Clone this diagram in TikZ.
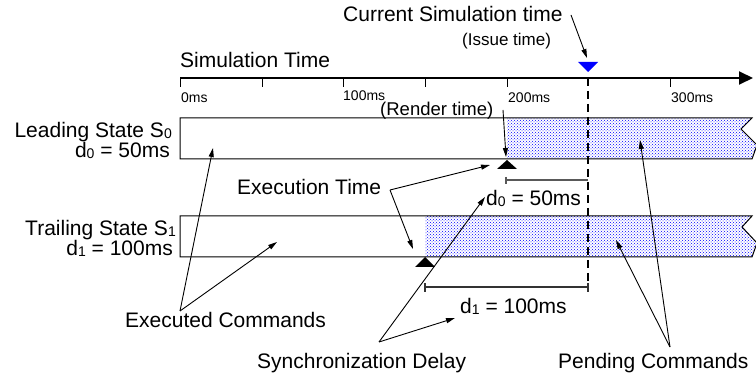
\documentclass[tikz,border=0pt]{standalone}
\usepackage{fontspec}
\setmainfont{Liberation Sans}
\usetikzlibrary{arrows.meta,patterns}
\newcommand{\mysub}[1]{\raisebox{-1pt}{\fontsize{14}{14}\selectfont #1}}
\tikzset{
  lbl/.style={inner sep=0pt, font=\fontsize{21}{21}\selectfont},
  tick lbl/.style={inner sep=0pt, anchor=base west, font=\fontsize{14}{14}\selectfont},
  ptr/.style={-{Triangle[length=9pt,width=5pt]}, line width=0.9pt},
  barline/.style={draw, line width=1pt},
  pend/.style={pattern=crosshatch dots, pattern color=blue},
  marker/.style={fill=black},
  axisline/.style={line width=2pt, -{Triangle[length=14pt,width=13pt]}},
  ticks/.style={line width=1pt},
  bracket/.style={line width=1.3pt},
}
\begin{document}
\begin{tikzpicture}[x=1pt,y=-1pt]
\useasboundingbox (0,0) rectangle (756,377);

% ---- time axis ----
\coordinate (ax0) at (180,78);
\coordinate (ax1) at (753,78);
\draw[axisline] (ax0) -- (ax1);
\foreach \x in {180,262,343,425,507,670} \draw[ticks] (\x,78) -- (\x,87);
\node[tick lbl] (t0) at (181,103) {0ms};
\node[tick lbl] (t100) at (343,101) {100ms};
\node[tick lbl] (t200) at (508,103) {200ms};
\node[tick lbl] (t300) at (671,103) {300ms};
\node[lbl, anchor=base west] (simtime) at (180,68) {Simulation Time};

% ---- bars ----
\fill[pend] (507,118) -- (752,118) -- (741,129) -- (757,145) -- (752,159) -- (507,159) -- cycle;
\fill[pend] (425,216) -- (752,216) -- (742,227) -- (757,243) -- (752,257) -- (425,257) -- cycle;
\draw[barline] (180,118) -- (752,118) -- (741,129) -- (757,145) -- (752,159) -- (180,159) -- cycle;
\draw[barline] (180,216) -- (752,216) -- (742,227) -- (757,243) -- (752,257) -- (180,257) -- cycle;

% ---- current time marker ----
\coordinate (now) at (588,78);
\coordinate (nowend) at (588,284);
\draw[line width=1.2pt, dash pattern=on 8pt off 5pt] (now) -- (nowend);
\fill[blue] (578,62) -- (598,62) -- (588,72) -- cycle;
\coordinate (curtip) at (587,58);

% ---- execution markers ----
\fill[marker] (507,160) -- (517,169) -- (497,169) -- cycle;
\fill[marker] (425,257) -- (435,267) -- (415,267) -- cycle;

% ---- delay brackets ----
\draw[bracket, black!65] (506,177) -- (506,184);
\draw[bracket, black!65] (506,180) -- (588,180);
\draw[bracket, black!80] (425,283) -- (425,292);
\draw[bracket, black!80] (425,287) -- (588,287);
\draw[bracket, black!80] (588,283) -- (588,292);

% ---- state labels ----
\node[lbl, anchor=base east] (lead) at (172,138) {Leading State S\mysub{0}};
\node[lbl, anchor=base east] (leadd) at (170,158) {d\mysub{0} = 50ms};
\node[lbl, anchor=base east] (trail) at (176,236) {Trailing State S\mysub{1}};
\node[lbl, anchor=base east] (traild) at (173,256) {d\mysub{1} = 100ms};

% ---- texts ----
\node[lbl, anchor=base west] (cur) at (343,22) {Current Simulation time};
\node[inner sep=0pt, anchor=base west, font=\fontsize{17}{17}\selectfont] (issue) at (462,46) {(Issue time)};
\node[inner sep=0pt, anchor=base west, font=\fontsize{18.5}{18.5}\selectfont] (render) at (380,116) {(Render time)};
\node[lbl, anchor=base west] (exec) at (237,195) {Execution Time};
\node[lbl, anchor=base west] (dzero) at (486,206) {d\mysub{0} = 50ms};
\node[lbl, anchor=base west] (done) at (460,313) {d\mysub{1} = 100ms};
\node[lbl, anchor=base west] (executed) at (125,327) {Executed Commands};
\node[lbl, anchor=base west] (sync) at (257,368) {Synchronization Delay};
\node[lbl, anchor=base west] (pending) at (558,368) {Pending Commands};

% ---- pointer coordinates ----
\coordinate (curfrom) at (571,15);
\coordinate (renfrom) at (503,110);
\coordinate (rentip) at (506,157);
\coordinate (exA) at (390,190);
\coordinate (exT1) at (490,165);
\coordinate (exT2) at (413,249);
\coordinate (ecA) at (180,311);
\coordinate (ecT1) at (213,148);
\coordinate (ecT2) at (277,242);
\coordinate (syA) at (379,342);
\coordinate (syT1) at (485,197);
\coordinate (syT2) at (455,318);
\coordinate (pcA) at (670,347);
\coordinate (pcT1) at (640,140);
\coordinate (pcT2) at (616,240);

% ---- pointers ----
\draw[ptr] (curfrom) -- (curtip);
\draw[ptr] (renfrom) -- (rentip);
\draw[ptr] (exA) -- (exT1);
\draw[ptr] (exA) -- (exT2);
\draw[ptr] (ecA) -- (ecT1);
\draw[ptr] (ecA) -- (ecT2);
\draw[ptr] (syA) -- (syT1);
\draw[ptr] (syA) -- (syT2);
\draw[ptr] (pcA) -- (pcT1);
\draw[ptr] (pcA) -- (pcT2);
\end{tikzpicture}
\end{document}
